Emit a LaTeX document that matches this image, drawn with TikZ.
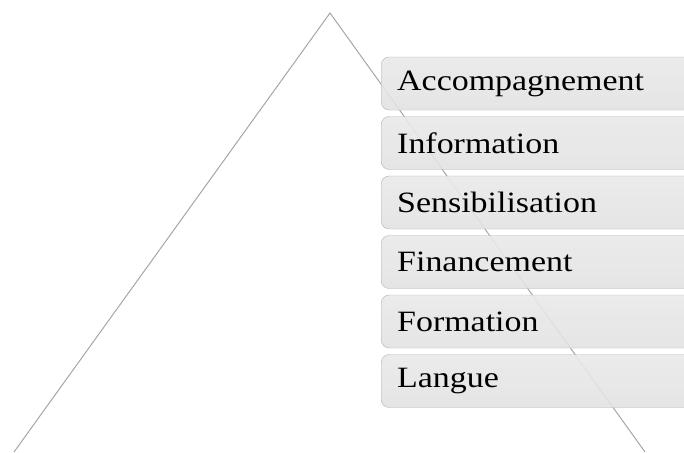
\documentclass[tikz,border=0pt]{standalone}
\usepackage{fontspec}
\setmainfont[FakeStretch=1.15]{Liberation Serif}
\tikzset{
    level/.style={draw=gray!60, rounded corners=8pt, top color=gray!17, bottom color=gray!23,
        fill opacity=0.9, text opacity=1, minimum width=330pt, minimum height=53pt,
        anchor=west, text width=300pt, align=left, inner xsep=16pt,
        font=\fontsize{29.5}{30}\selectfont},
    side/.style={gray!70, line width=1pt}
}
\begin{document}
\begin{tikzpicture}[x=1pt, y=-1pt]
        \clip (0,0) rectangle (684,452);
        \coordinate (top) at (330,13);
        \coordinate (left) at (14,452);
        \coordinate (right) at (645,452);
        \draw[side] (left) -- (top) -- (right);
        \node[level] (acc) at (381,83.5) {Accompagnement};
        \node[level] (info) at (381,143) {Information};
        \node[level] (sens) at (381,202.5) {Sensibilisation};
        \node[level] (fin) at (381,262) {Financement};
        \node[level] (form) at (381,321.5) {Formation};
        \node[level] (lang) at (381,381) {Langue};
    \end{tikzpicture}
\end{document}
